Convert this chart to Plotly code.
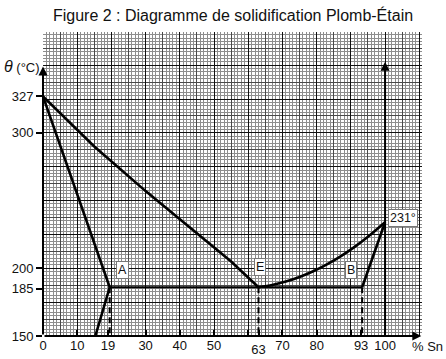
import plotly.graph_objects as go

TITLE = "Figure 2 : Diagramme de solidification Plomb-Étain"

# --- data (x = % Sn, y = temperature in °C) ---
liq_left_x = [0, 15, 30, 45, 55, 63]
liq_left_y = [327, 290, 257, 226, 205, 186]
liq_right_x = [63, 67, 71, 75, 79, 83, 87, 91, 95, 100]
liq_right_y = [186, 187.7, 190.2, 193.6, 197.8, 202.9, 208.8, 215.6, 223.3, 234]
sol_left_x = [0, 19.5]
sol_left_y = [327, 186]
solvus_x = [19.5, 15.3]
solvus_y = [186, 150]
plateau_x = [19.5, 93.3]
plateau_y = [186, 186]
sol_right_x = [93.3, 100]
sol_right_y = [186, 234]
proj_x = [19.5, 63, 93.3]
proj_y_top = 186
T_BASE = 150

x_tickvals = [0, 10, 19, 30, 40, 50, 60, 70, 80, 90, 93, 100]
x_ticktext = ["0", "10", "19", "30", "40", "50", "", "70", "80", "", "93", "100"]
x_low_tick = [63]
y_tickvals = [150, 185, 200, 300, 327]
y_ticktext = ["150", "185", "200", "300", "327"]

point_labels = ["A", "E", "B", "231°"]
point_label_x = [23.3, 63.5, 90.1, 105.3]
point_label_y = [198.5, 201, 198.5, 237]

X_RANGE = [0, 110.8]
Y_RANGE = [150, 374.5]
FONT = "Liberation Sans, Arial, Helvetica, sans-serif"

fig = go.Figure()
line = dict(color="black", width=2.6)
fig.add_trace(go.Scatter(x=liq_left_x, y=liq_left_y, mode="lines", line=line))
fig.add_trace(go.Scatter(x=liq_right_x, y=liq_right_y, mode="lines",
                         line=dict(color="black", width=2.6, shape="spline", smoothing=0.8)))
fig.add_trace(go.Scatter(x=sol_left_x, y=sol_left_y, mode="lines", line=line))
fig.add_trace(go.Scatter(x=solvus_x, y=solvus_y, mode="lines", line=line))
fig.add_trace(go.Scatter(x=plateau_x, y=plateau_y, mode="lines", line=dict(color="black", width=2)))
fig.add_trace(go.Scatter(x=sol_right_x, y=sol_right_y, mode="lines", line=line))
for px in proj_x:
    fig.add_trace(go.Scatter(x=[px, px], y=[proj_y_top, T_BASE], mode="lines",
                             line=dict(color="black", width=2, dash="6px,4px")))

# dummy traces to activate overlaying axes
for xa, ya in [("x2", "y"), ("x3", "y"), ("x4", "y"), ("x", "y2"), ("x", "y3")]:
    fig.add_trace(go.Scatter(x=[None], y=[None], xaxis=xa, yaxis=ya, mode="markers",
                             hoverinfo="skip"))

# axis arrows
arrow = dict(text="", showarrow=True, arrowhead=2, arrowsize=0.9, arrowwidth=2,
             arrowcolor="black", xref="x", yref="y", axref="x", ayref="y", standoff=0)
fig.add_annotation(x=110.6, y=T_BASE, ax=0, ay=T_BASE, **arrow)
fig.add_annotation(x=0, y=349, ax=0, ay=T_BASE, **arrow)
fig.add_annotation(x=100, y=352.5, ax=100, ay=T_BASE, **arrow)

for t, xx, yy in zip(point_labels, point_label_x, point_label_y):
    fig.add_annotation(x=xx, y=yy, text=t, showarrow=False, bgcolor="white",
                       bordercolor="#777", borderwidth=1, borderpad=1,
                       font=dict(size=12.5, color="#111", family=FONT))

fig.add_annotation(xref="paper", yref="paper", x=-0.108, y=0.885, xanchor="left",
                   yanchor="middle",
                   text="<span style='font-size:16px'><i>θ</i></span> (°C)",
                   showarrow=False, font=dict(size=13, color="#111", family=FONT))
fig.add_annotation(xref="paper", yref="paper", x=0.968, y=-0.003, xanchor="left",
                   yanchor="top", text="% Sn",
                   showarrow=False, font=dict(size=13, color="#111", family=FONT))

grid_common = dict(showline=False, zeroline=False, ticks="", showticklabels=False,
                   fixedrange=True, automargin=False)
tick_common = dict(showgrid=False, zeroline=False, showline=False, fixedrange=True,
                   automargin=False, tickmode="array", tickwidth=1.5, tickcolor="black",
                   tickfont=dict(size=13, family=FONT, color="#111"))
fig.update_layout(
    width=446, height=359,
    margin=dict(l=43, r=24, t=32, b=23, autoexpand=False),
    paper_bgcolor="white", plot_bgcolor="white",
    showlegend=False,
    title=dict(text=TITLE, x=233 / 446, y=1 - 15 / 359, xref="container", yref="container",
               xanchor="center", yanchor="middle", font=dict(size=16, color="#111", family=FONT)),
    font=dict(family=FONT, size=12, color="#111"),
    xaxis=dict(range=X_RANGE, showgrid=True, tick0=0, dtick=5, gridcolor="#4a4a4a", gridwidth=1,
               minor=dict(tick0=0, dtick=1, showgrid=True, gridcolor="#8e8e8e", gridwidth=1),
               **grid_common),
    xaxis2=dict(range=X_RANGE, overlaying="x", anchor="y", side="bottom", showgrid=True,
                tick0=0, dtick=10, gridcolor="#111", gridwidth=1.3, **grid_common),
    xaxis3=dict(range=X_RANGE, overlaying="x", anchor="y", side="bottom",
                tickvals=x_tickvals, ticktext=x_ticktext, ticks="inside", ticklen=6,
                **tick_common),
    xaxis4=dict(range=X_RANGE, overlaying="x", anchor="y", side="bottom",
                tickvals=x_low_tick, ticktext=[str(v) for v in x_low_tick],
                ticks="inside", ticklen=6, ticklabelstandoff=4, **tick_common),
    yaxis=dict(range=Y_RANGE, showgrid=True, tick0=150, dtick=12.5, gridcolor="#4a4a4a", gridwidth=1,
               minor=dict(tick0=150, dtick=2.5, showgrid=True, gridcolor="#8e8e8e", gridwidth=1),
               **grid_common),
    yaxis2=dict(range=Y_RANGE, overlaying="y", anchor="x", side="left", showgrid=True,
                tick0=150, dtick=25, gridcolor="#111", gridwidth=1.3, **grid_common),
    yaxis3=dict(range=Y_RANGE, overlaying="y", anchor="x", side="left",
                tickvals=y_tickvals, ticktext=y_ticktext, ticks="outside", ticklen=6,
                **tick_common),
)

fig.write_html("out.html", config={"displayModeBar": False},
               post_script="document.body.style.margin='0';document.body.style.overflow='hidden';")
